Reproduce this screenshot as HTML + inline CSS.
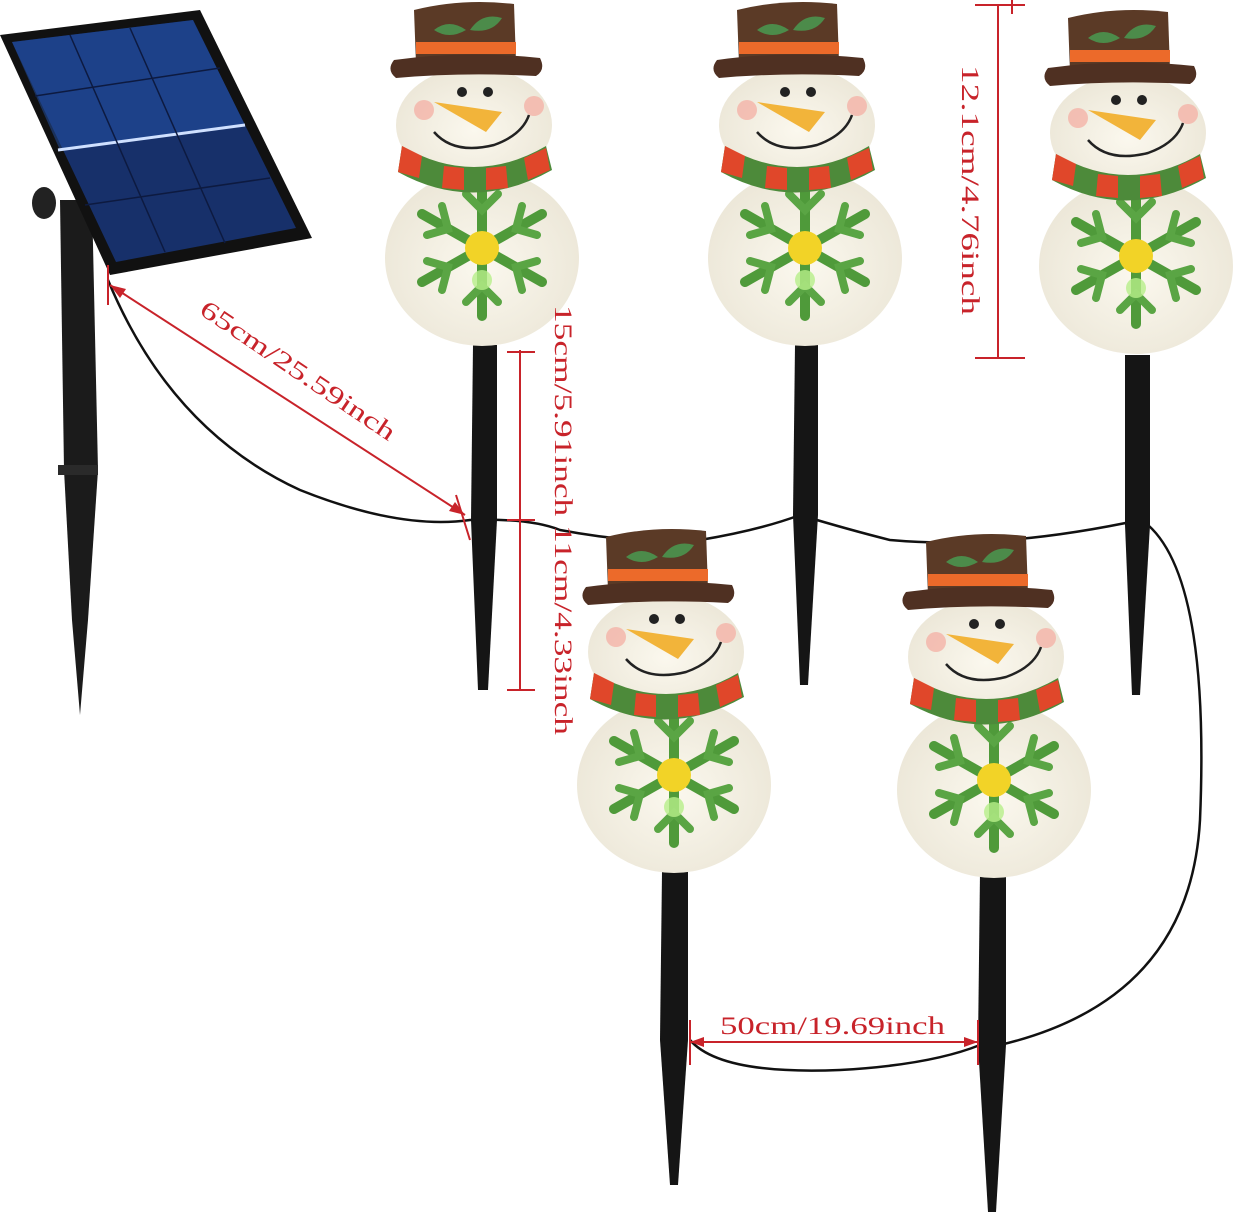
<!DOCTYPE html>
<html><head><style>
html,body{margin:0;padding:0;background:#fff;width:1260px;height:1216px;overflow:hidden}
svg{display:block}
.t{font-family:"Liberation Serif",serif;font-size:25px;fill:#c8232a}
</style></head><body>
<svg width="1260" height="1216" viewBox="0 0 1260 1216" xmlns="http://www.w3.org/2000/svg">
<defs>
<radialGradient id="glow" cx="50%" cy="55%" r="55%"><stop offset="0" stop-color="#fbf8ee"/><stop offset="1" stop-color="#ece7d8"/></radialGradient>
<g id="flake">
  <g stroke="#4f9a3a" stroke-width="10" stroke-linecap="round">
    <line x1="0" y1="-68" x2="0" y2="68"/>
    <line x1="-60" y1="-34" x2="60" y2="34"/>
    <line x1="-60" y1="34" x2="60" y2="-34"/>
  </g>
  <g stroke="#5aa544" stroke-width="8" stroke-linecap="round" fill="none">
    <path d="M-16 -54 L0 -38 L16 -54 M-16 54 L0 38 L16 54"/>
    <path d="M-55 -13 L-34 -19 L-40 -42 M55 13 L34 19 L40 42"/>
    <path d="M-55 13 L-34 19 L-40 42 M55 -13 L34 -19 L40 -42"/>
  </g>
  <circle r="17" fill="#f2d327"/>
  <circle cy="32" r="10" fill="#b6ef8a" opacity="0.8"/>
</g>
<g id="sm">
  <ellipse cx="8" cy="258" rx="97" ry="88" fill="url(#glow)"/>
  <ellipse cx="0" cy="125" rx="78" ry="58" fill="url(#glow)"/>
  <use href="#flake" x="8" y="248"/>
  <path d="M-72 146 Q0 188 72 146 L78 170 Q0 214 -76 172 Z" fill="#4d8a3a"/>
  <path d="M-72 146 L-76 172 L-55 178 L-52 156 Z M-30 166 L-32 188 L-10 190 L-10 168 Z M12 168 L12 190 L34 188 L32 166 Z M50 158 L54 180 L76 170 L72 148 Z" fill="#e0472a"/>
  <circle cx="-50" cy="110" r="10" fill="#f4b3a8" opacity="0.8"/>
  <circle cx="60" cy="106" r="10" fill="#f4b3a8" opacity="0.8"/>
  <circle cx="-12" cy="92" r="5" fill="#222"/><circle cx="14" cy="92" r="5" fill="#222"/>
  <path d="M-40 102 L28 112 L12 132 Z" fill="#f2b43a"/>
  <path d="M-40 132 Q-20 155 20 145 Q48 135 55 115" fill="none" stroke="#222" stroke-width="2.5"/>
  <path d="M-60 10 Q-12 -2 40 4 L42 62 L-58 64 Z" fill="#5b3a26"/>
  <rect x="-58" y="42" width="100" height="12" fill="#ec6a2a"/>
  <path d="M-40 30 Q-25 18 -8 30 Q-25 40 -40 30 Z M-4 30 Q8 12 28 18 Q18 34 -4 30 Z" fill="#4c8b4a"/>
  <path d="M-80 60 Q-10 50 66 58 Q72 70 62 76 Q-10 72 -78 78 Q-88 70 -80 60 Z" fill="#4f3022"/>
</g>
</defs>

<g fill="none" stroke="#111" stroke-width="2.5">
  <path d="M108 280 Q170 430 300 490 Q400 530 470 520 Q530 518 560 530 Q640 545 700 540 Q760 530 800 515 Q850 530 890 540 Q1000 550 1140 520"/>
  <path d="M1148 525 Q1210 580 1200 820 Q1190 1000 1000 1045"/>
  <path d="M690 1040 Q720 1075 840 1070 Q930 1065 980 1045"/>
</g>

<path d="M60 200 L92 200 L98 470 L88 620 L80 715 L72 620 L64 470 Z" fill="#1b1b1b"/>
<rect x="58" y="465" width="40" height="10" fill="#2a2a2a"/>
<ellipse cx="44" cy="203" rx="12" ry="16" fill="#222"/>
<path d="M0 35 L200 10 L312 238 L110 275 Z" fill="#111"/>
<path d="M12 42 L193 20 L296 228 L116 262 Z" fill="#17306a"/>
<path d="M12 42 L193 20 L245 125 L60 150 Z" fill="#2452a8" opacity="0.5"/>
<path d="M58 150 L245 125" stroke="#cfe0ff" stroke-width="3"/>
<g stroke="#0d1a40" stroke-width="1.5">
  <path d="M70 35 L165 252 M130 28 L225 243 M35 96 L220 68 M85 205 L270 178"/>
</g>

<g fill="#151515">
  <path d="M473 345 L497 345 L497 520 L488 690 L478 690 L471 520 Z"/>
  <path d="M795 345 L818 345 L818 515 L808 685 L800 685 L793 515 Z"/>
  <path d="M1125 355 L1150 355 L1150 525 L1140 695 L1132 695 L1125 525 Z"/>
  <path d="M662 872 L688 872 L688 1040 L678 1185 L670 1185 L660 1040 Z"/>
  <path d="M980 872 L1006 872 L1006 1045 L996 1212 L988 1212 L978 1045 Z"/>
</g>

<use href="#sm" x="474" y="0"/>
<use href="#sm" x="797" y="0"/>
<use href="#sm" x="1128" y="8"/>
<use href="#sm" x="666" y="527"/>
<use href="#sm" x="986" y="532"/>

<g stroke="#c8232a" stroke-width="2" fill="none">
  <path d="M110 285 L465 515"/>
  <path d="M108 265 L108 305 M456 495 L470 540"/>
  <path d="M520 350 L520 690 M507 352 L535 352 M507 520 L535 520 M507 690 L535 690"/>
  <path d="M998 5 L998 358 M975 5 L1025 5 M975 358 L1025 358 M1012 0 L1012 14"/>
  <path d="M690 1042 L978 1042 M690 1020 L690 1065 M978 1020 L978 1065"/>
</g>
<g fill="#c8232a">
  <path d="M110 285 L126 289 L120 298 Z"/><path d="M465 515 L449 511 L455 502 Z"/>
  <path d="M690 1042 L704 1037 L704 1047 Z"/><path d="M978 1042 L964 1037 L964 1047 Z"/>
</g>

<text class="t" transform="translate(198 313) rotate(34)" textLength="230" lengthAdjust="spacingAndGlyphs">65cm/25.59inch</text>
<text class="t" transform="translate(555 305) rotate(90)" textLength="430" lengthAdjust="spacingAndGlyphs">15cm/5.91inch 11cm/4.33inch</text>
<text class="t" transform="translate(962 65) rotate(90)" textLength="250" lengthAdjust="spacingAndGlyphs">12.1cm/4.76inch</text>
<text class="t" x="720" y="1034" textLength="225" lengthAdjust="spacingAndGlyphs">50cm/19.69inch</text>
</svg>
</body></html>
